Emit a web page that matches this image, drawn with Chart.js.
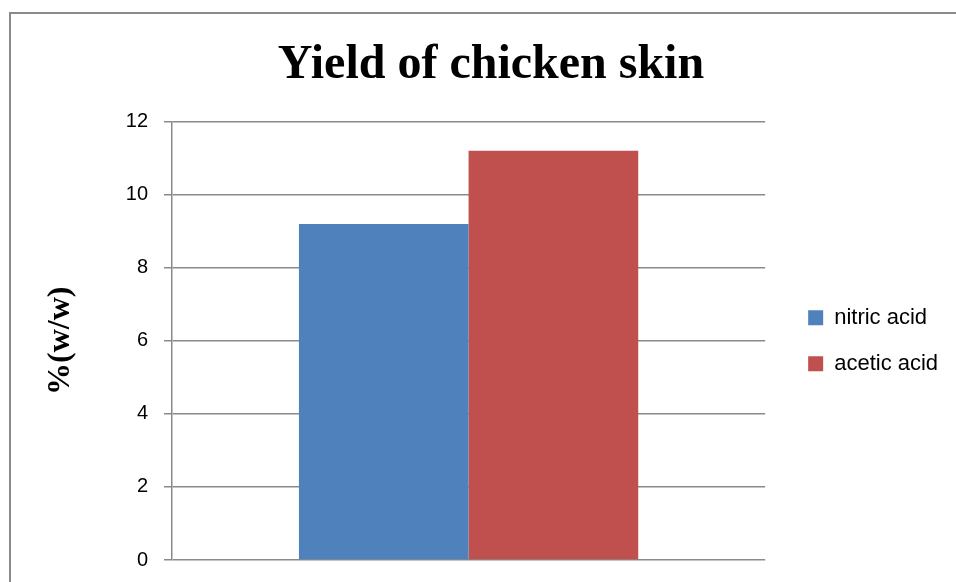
<!DOCTYPE html>
<html lang="en">
<head>
  <meta charset="UTF-8" />
  <title>Yield of chicken skin</title>
  <style>
    html, body {
      margin: 0;
      padding: 0;
      background: white;
    }
  </style>
</head>
<body>

<canvas id="yieldChart" width="956" height="582"></canvas>

<script src="https://cdn.jsdelivr.net/npm/chart.js"></script>

<script>
  // chart data
  const categories = [''];
  const seriesNames = ['nitric acid', 'acetic acid'];
  const nitricValues = [9.2];
  const aceticValues = [11.2];
  const yTicks = [0, 2, 4, 6, 8, 10, 12];

  const gridGray = '#8a8a8a';

  // grey frame round the whole picture (it runs off the right and bottom)
  const framePlugin = {
    id: 'frame',
    afterLayout(chart) {
      // centre the title over the frame, not over the whole canvas
      if (chart.titleBlock) chart.titleBlock.left = 41;
    },
    beforeDraw(chart) {
      const c = chart.ctx;
      c.save();
      c.strokeStyle = gridGray;
      c.lineWidth = 2;
      c.strokeRect(10, 13, 2000, 2000);
      c.restore();
    }
  };

  const ctx = document.getElementById('yieldChart').getContext('2d');
  const yieldChart = new Chart(ctx, {
    type: 'bar',
    data: {
      labels: categories,
      datasets: [
        {
          label: seriesNames[0],
          data: nitricValues,
          backgroundColor: '#4f81bd',
          barPercentage: 1,
          categoryPercentage: 0.572
        },
        {
          label: seriesNames[1],
          data: aceticValues,
          backgroundColor: '#c0504d',
          barPercentage: 1,
          categoryPercentage: 0.572
        }
      ]
    },
    options: {
      responsive: false,
      animation: false,
      layout: {
        padding: { left: 0, right: 15, top: 0, bottom: 22 }
      },
      scales: {
        x: {
          display: false
        },
        y: {
          min: yTicks[0],
          max: yTicks[yTicks.length - 1],
          afterBuildTicks(scale) {
            scale.ticks = yTicks.map(v => ({ value: v }));
          },
          afterFit(scale) {
            scale.width = 172;
            // tick padding would otherwise push the plot bottom up
            scale.paddingTop = 12;
            scale.paddingBottom = 12;
          },
          border: { display: true, color: gridGray, width: 1.5 },
          grid: {
            color: gridGray,
            lineWidth: 1.5,
            tickLength: 8,
            tickColor: gridGray
          },
          ticks: {
            color: '#000',
            padding: 16,
            font: { family: 'Liberation Sans', size: 20 }
          },
          title: {
            display: true,
            text: '%(w/w)',
            color: '#000',
            padding: { top: 42, bottom: 4 },
            font: { family: 'Liberation Serif', size: 32, weight: 'bold', lineHeight: 1.2 }
          }
        },
        // empty axis, only keeps the legend away from the plot
        gap: {
          position: 'right',
          display: true,
          min: 0,
          max: 1,
          afterFit(scale) {
            scale.width = 19;
          },
          grid: { display: false },
          border: { display: false },
          ticks: { display: false }
        }
      },
      plugins: {
        title: {
          display: true,
          text: 'Yield of chicken skin',
          color: '#000',
          padding: { top: 37, bottom: 27 },
          font: { family: 'Liberation Serif', size: 48, weight: 'bold', lineHeight: 1.2 }
        },
        legend: {
          position: 'right',
          fullSize: false,
          labels: {
            color: '#000',
            boxWidth: 15,
            boxHeight: 15,
            padding: 24,
            font: { family: 'Liberation Sans', size: 22 }
          }
        },
        tooltip: { enabled: false }
      }
    },
    plugins: [framePlugin]
  });
</script>

</body>
</html>
